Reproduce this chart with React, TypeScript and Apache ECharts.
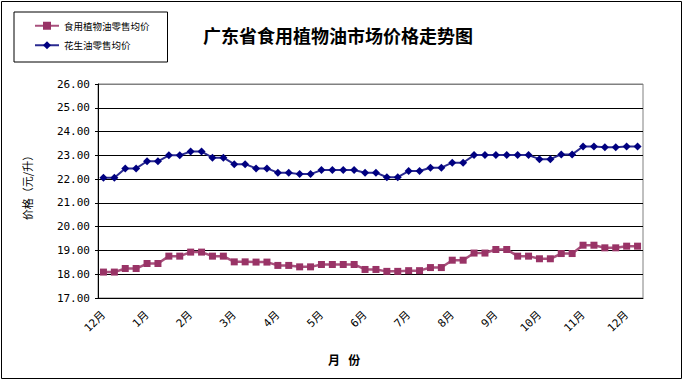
import React, { useEffect, useRef } from "react";
import * as echarts from "echarts";

const months = ["12月", "1月", "2月", "3月", "4月", "5月", "6月", "7月", "8月", "9月", "10月", "11月", "12月"];
const weeksPerMonth = ["第1周", "第2周", "第3周", "第4周"];
const categories: string[] = [];
months.forEach((m, i) => {
  weeksPerMonth.forEach((w, j) => {
    if (i < months.length - 1 || j < 2) categories.push(m + w);
  });
});

const edibleOil = [
  18.09, 18.09, 18.24, 18.24, 18.45, 18.45, 18.76, 18.76, 18.93, 18.93,
  18.76, 18.76, 18.52, 18.52, 18.51, 18.51, 18.37, 18.37, 18.31, 18.31,
  18.41, 18.41, 18.41, 18.41, 18.2, 18.2, 18.12, 18.12, 18.15, 18.15,
  18.28, 18.28, 18.59, 18.59, 18.89, 18.89, 19.04, 19.04, 18.76, 18.76,
  18.65, 18.65, 18.87, 18.87, 19.22, 19.22, 19.11, 19.11, 19.18, 19.18,
];

const peanutOil = [
  22.06, 22.06, 22.45, 22.45, 22.75, 22.75, 23.0, 23.0, 23.16, 23.16,
  22.9, 22.9, 22.63, 22.63, 22.45, 22.45, 22.27, 22.27, 22.21, 22.21,
  22.38, 22.38, 22.38, 22.38, 22.27, 22.27, 22.08, 22.08, 22.34, 22.34,
  22.48, 22.48, 22.69, 22.69, 23.01, 23.01, 23.01, 23.01, 23.01, 23.01,
  22.84, 22.84, 23.04, 23.04, 23.37, 23.37, 23.34, 23.34, 23.37, 23.37,
];

const seriesNames = ["食用植物油零售均价", "花生油零售均价"];
const titleText = "广东省食用植物油市场价格走势图";
const xName = "月   份";
const yName = "价格（元/升）";

const CJK = "'Noto Sans CJK SC', sans-serif";
const MONO = "'DejaVu Sans Mono', 'Noto Sans CJK SC', monospace";

export default function App() {
  const ref = useRef<HTMLDivElement>(null);
  useEffect(() => {
    document.body.style.margin = "0";
    const chart = echarts.init(ref.current!, null, { renderer: "svg" });
    chart.setOption({
      animation: false,
      backgroundColor: "#ffffff",
      title: {
        text: titleText,
        left: 203,
        top: 26,
        padding: 0,
        textStyle: { fontFamily: CJK, fontSize: 18, fontWeight: "bold", color: "#000" },
      },
      legend: {
        orient: "vertical",
        left: 14,
        top: 12,
        padding: [9, 18, 12, 20],
        itemGap: 10,
        itemWidth: 24,
        itemHeight: 10,
        borderColor: "#000",
        borderWidth: 1,
        data: seriesNames,
        textStyle: { fontFamily: CJK, fontSize: 9.5, color: "#000" },
      },
      grid: {
        left: 98,
        right: 41,
        top: 84,
        bottom: 82,
        show: true,
        borderColor: "#808080",
        borderWidth: 1,
      },
      graphic: [
        {
          type: "rect",
          shape: { x: 1.5, y: 1.5, width: 680, height: 377 },
          style: { fill: "none", stroke: "#000", lineWidth: 1 },
          silent: true,
        },
        {
          type: "text",
          left: 328,
          top: 353,
          style: { text: xName, fontFamily: CJK, fontSize: 12, fontWeight: "bold", fill: "#000" },
        },
      ],
      xAxis: {
        type: "category",
        data: categories,
        boundaryGap: true,
        axisLine: { lineStyle: { color: "#000", width: 1 } },
        axisTick: { interval: 0, inside: true, length: 5, lineStyle: { color: "#000" } },
        axisLabel: {
          interval: 3,
          rotate: 45,
          margin: 15,
          fontFamily: MONO,
          fontSize: 11,
          color: "#000",
          formatter: (v: string) => v.slice(0, v.indexOf("月") + 1),
        },
        splitLine: { show: false },
      },
      yAxis: {
        type: "value",
        min: 17,
        max: 26,
        interval: 1,
        name: yName,
        nameLocation: "middle",
        nameGap: 66,
        nameRotate: 90,
        nameTextStyle: { fontFamily: CJK, fontSize: 11, color: "#000", padding: [0, 0, 0, 12] },
        axisLine: { show: true, lineStyle: { color: "#000" } },
        axisTick: { show: true, length: 3, lineStyle: { color: "#000" } },
        axisLabel: {
          margin: 8,
          fontFamily: MONO,
          fontSize: 11,
          color: "#000",
          formatter: (v: number) => v.toFixed(2),
        },
        splitLine: {
          show: true,
          lineStyle: {
            color: ["#000", "#000", "#000", "#000", "#000", "#000", "#000", "#000", "#000", "#808080"],
            width: 1,
          },
        },
      },
      series: [
        {
          name: seriesNames[0],
          type: "line",
          data: edibleOil,
          symbol: "rect",
          symbolSize: 7,
          showAllSymbol: true,
          itemStyle: { color: "#993366" },
          lineStyle: { color: "#a8507c", width: 2.5 },
        },
        {
          name: seriesNames[1],
          type: "line",
          data: peanutOil,
          symbol: "diamond",
          symbolSize: 8,
          showAllSymbol: true,
          itemStyle: { color: "#000080" },
          lineStyle: { color: "#2a2a90", width: 2 },
        },
      ],
    });
    return () => chart.dispose();
  }, []);
  return <div ref={ref} style={{ width: 684, height: 380 }} />;
}
